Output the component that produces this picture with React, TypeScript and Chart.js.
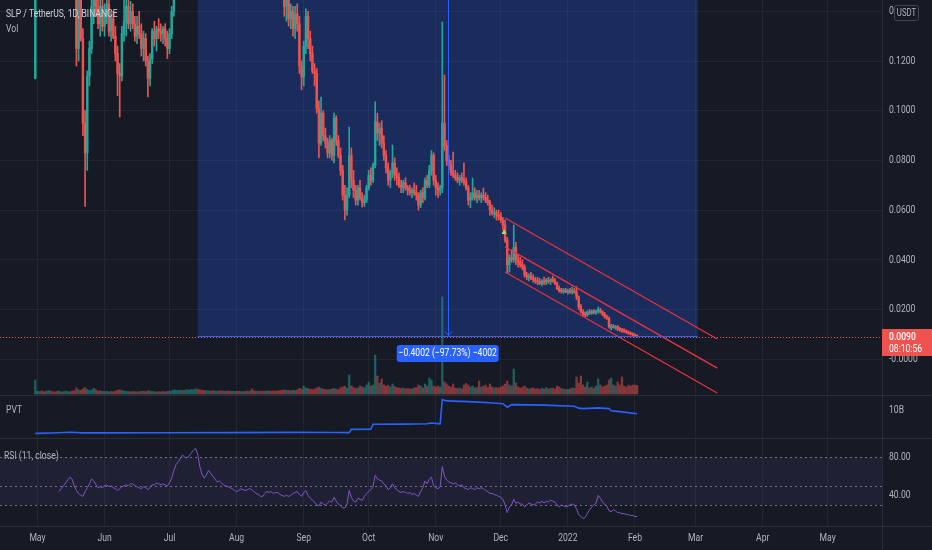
import React, { useEffect, useRef } from "react";
import { Chart, registerables } from "chart.js";

Chart.register(...registerables);

// ---- SLP / TetherUS daily candles, Binance. Day 0 = 30 Apr 2021. ----
// Prices in units of 0.0001 USDT: [open, high, low, close]
const PRICE_UNIT = 0.0001;

const CANDLES_APR_2021 = [[1130, 1900, 1128, 1600]];
const CANDLES_MAY_2021 = [
  [1600, 1750, 1500, 1650], [1650, 1850, 1600, 1800], [1800, 1950, 1700, 1750], [1750, 1800, 1550, 1600],
  [1600, 1750, 1580, 1700], [1700, 1900, 1650, 1850], [1850, 2000, 1750, 1800], [1800, 1900, 1700, 1750],
  [1750, 1850, 1650, 1700], [1700, 1800, 1550, 1600], [1600, 1750, 1550, 1680], [1680, 1700, 1500, 1550],
  [1550, 1650, 1480, 1620], [1620, 1750, 1600, 1720], [1720, 1850, 1700, 1800], [1800, 1900, 1700, 1750],
  [1750, 1800, 1600, 1650], [1650, 1720, 1550, 1600], [1600, 1650, 1180, 1250], [1250, 1550, 1200, 1450],
  [1450, 1520, 1280, 1290], [1290, 1330, 900, 950], [950, 1000, 615, 830], [830, 1160, 760, 1140],
  [1140, 1280, 1100, 1250], [1250, 1450, 1230, 1420], [1420, 1520, 1350, 1480], [1480, 1550, 1380, 1400],
  [1400, 1480, 1330, 1350], [1350, 1450, 1300, 1420], [1420, 1460, 1320, 1340],
];
const CANDLES_JUN_2021 = [
  [1340, 1430, 1300, 1390], [1390, 1470, 1350, 1430], [1430, 1450, 1300, 1320], [1320, 1400, 1280, 1370],
  [1370, 1400, 1290, 1300], [1300, 1340, 1200, 1230], [1230, 1260, 1060, 1150], [1150, 1190, 975, 1140],
  [1140, 1340, 1120, 1310], [1310, 1460, 1280, 1360], [1360, 1470, 1300, 1420], [1420, 1450, 1330, 1350],
  [1350, 1440, 1320, 1400], [1400, 1430, 1330, 1350], [1350, 1380, 1280, 1300], [1300, 1380, 1270, 1340],
  [1340, 1400, 1290, 1310], [1310, 1350, 1220, 1250], [1250, 1320, 1200, 1290], [1290, 1310, 1180, 1200],
  [1200, 1220, 1055, 1130], [1130, 1230, 1100, 1210], [1210, 1330, 1190, 1320], [1320, 1360, 1260, 1290],
  [1290, 1340, 1240, 1330], [1330, 1370, 1290, 1320], [1320, 1350, 1280, 1310], [1310, 1340, 1270, 1330],
  [1330, 1350, 1260, 1290], [1290, 1320, 1210, 1250],
];
const CANDLES_JUL_2021 = [
  [1250, 1330, 1230, 1310], [1310, 1420, 1290, 1400], [1400, 1700, 1380, 1650], [1650, 1950, 1600, 1900],
  [1900, 2300, 1850, 2250], [2250, 2600, 2150, 2500], [2500, 2700, 2300, 2450], [2450, 2900, 2400, 2850],
  [2850, 3200, 2750, 3100], [3100, 3500, 3000, 3400], [3400, 3700, 3250, 3600], [3600, 3950, 3500, 3850],
  [3850, 4000, 3700, 3900], [3900, 4095, 3400, 3500], [3500, 3600, 3100, 3200], [3200, 3300, 2900, 3000],
  [3000, 3100, 2700, 2800], [2800, 3100, 2750, 3050], [3050, 3300, 2950, 3200], [3200, 3350, 3000, 3100],
  [3100, 3200, 2900, 2950], [2950, 3150, 2850, 3050], [3050, 3300, 3000, 3250], [3250, 3400, 3100, 3150],
  [3150, 3250, 2950, 3000], [3000, 3150, 2900, 3100], [3100, 3200, 2900, 2950], [2950, 3050, 2800, 2850],
  [2850, 3000, 2750, 2900], [2900, 2950, 2700, 2750], [2750, 2850, 2650, 2800],
];
const CANDLES_AUG_2021 = [
  [2800, 2900, 2600, 2650], [2650, 2750, 2500, 2550], [2550, 2700, 2450, 2600], [2600, 2750, 2500, 2700],
  [2700, 2800, 2550, 2600], [2600, 2650, 2400, 2450], [2450, 2600, 2400, 2550], [2550, 2650, 2350, 2400],
  [2400, 2500, 2250, 2300], [2300, 2450, 2250, 2400], [2400, 2450, 2200, 2250], [2250, 2350, 2100, 2150],
  [2150, 2250, 2000, 2050], [2050, 2200, 2000, 2100], [2100, 2150, 1900, 1950], [1950, 2050, 1850, 2000],
  [2000, 2050, 1800, 1850], [1850, 1950, 1750, 1800], [1800, 1900, 1700, 1750], [1750, 1800, 1600, 1650],
  [1650, 1750, 1550, 1600], [1600, 1650, 1480, 1500], [1500, 1560, 1380, 1420], [1420, 1490, 1360, 1450],
  [1450, 1470, 1340, 1370], [1370, 1430, 1330, 1400], [1400, 1420, 1300, 1330], [1330, 1420, 1290, 1390],
  [1390, 1430, 1320, 1350], [1350, 1380, 1150, 1180], [1180, 1200, 1084, 1136],
];
const CANDLES_SEP_2021 = [
  [1136, 1280, 1100, 1260], [1260, 1410, 1230, 1380], [1380, 1400, 1250, 1290], [1290, 1320, 1200, 1230],
  [1230, 1260, 1150, 1160], [1160, 1190, 1100, 1150], [1150, 1170, 990, 1010], [1010, 1040, 810, 870],
  [870, 1055, 860, 990], [990, 1000, 880, 900], [900, 930, 850, 870], [870, 890, 810, 830],
  [830, 900, 810, 880], [880, 890, 800, 820], [820, 990, 790, 970], [970, 980, 860, 880],
  [880, 900, 810, 820], [820, 850, 740, 760], [760, 780, 640, 660], [660, 700, 560, 600],
  [600, 690, 580, 660], [660, 934, 650, 820], [820, 850, 690, 720], [720, 760, 650, 680],
  [680, 700, 620, 640], [640, 700, 620, 690], [690, 720, 640, 650], [650, 670, 612, 630],
  [630, 660, 615, 640], [640, 700, 630, 690],
];
const CANDLES_OCT_2021 = [
  [690, 760, 680, 740], [740, 770, 700, 720], [720, 790, 710, 780], [780, 1036, 770, 955],
  [955, 990, 880, 910], [910, 950, 860, 930], [930, 960, 850, 870], [870, 900, 800, 820],
  [820, 840, 750, 770], [770, 790, 700, 720], [720, 760, 690, 750], [750, 862, 730, 790],
  [790, 810, 720, 740], [740, 770, 700, 730], [730, 750, 690, 700], [700, 720, 670, 690],
  [690, 720, 670, 710], [710, 730, 680, 690], [690, 700, 660, 680], [680, 700, 660, 670],
  [670, 690, 650, 680], [680, 710, 660, 670], [670, 700, 640, 660], [660, 670, 600, 620],
  [620, 680, 610, 670], [670, 690, 630, 650], [650, 730, 640, 720], [720, 740, 690, 700],
  [700, 780, 690, 760], [760, 840, 740, 820], [820, 830, 700, 720],
];
const CANDLES_NOV_2021 = [
  [720, 740, 660, 690], [690, 710, 650, 680], [680, 700, 660, 690], [690, 1357, 670, 950],
  [950, 1144, 840, 860], [860, 880, 780, 800], [800, 820, 760, 780], [780, 800, 740, 750],
  [750, 833, 730, 740], [740, 760, 720, 730], [730, 750, 710, 720], [720, 740, 700, 730],
  [730, 750, 710, 720], [720, 790, 700, 715], [715, 730, 680, 690], [690, 700, 620, 640],
  [640, 670, 610, 650], [650, 729, 640, 670], [670, 690, 640, 650], [650, 680, 630, 660],
  [660, 680, 640, 650], [650, 670, 630, 660], [660, 689, 640, 650], [650, 670, 630, 640],
  [640, 660, 620, 630], [630, 640, 580, 600], [600, 620, 580, 590], [590, 610, 570, 590],
  [590, 600, 560, 580], [580, 600, 560, 575],
];
const CANDLES_DEC_2021 = [
  [575, 590, 550, 560], [560, 570, 520, 540], [540, 560, 470, 480], [480, 490, 347, 380],
  [380, 420, 350, 410], [410, 440, 390, 400], [400, 540, 390, 450], [450, 470, 380, 400],
  [400, 420, 370, 390], [390, 410, 370, 380], [380, 400, 360, 370], [370, 380, 330, 340],
  [340, 350, 320, 330], [330, 345, 315, 335], [335, 350, 320, 325], [325, 340, 310, 320],
  [320, 330, 305, 315], [315, 330, 300, 310], [310, 325, 300, 305], [305, 320, 295, 315],
  [315, 330, 300, 310], [310, 325, 300, 318], [318, 330, 305, 312], [312, 325, 300, 320],
  [320, 335, 310, 315], [315, 325, 300, 305], [305, 310, 280, 285], [285, 295, 270, 275],
  [275, 285, 265, 272], [272, 285, 265, 278], [278, 285, 268, 270],
];
const CANDLES_JAN_2022 = [
  [270, 282, 262, 275], [275, 285, 265, 270], [270, 290, 262, 275], [275, 285, 265, 270],
  [270, 292, 240, 250], [250, 255, 200, 210], [210, 220, 185, 190], [190, 200, 172, 180],
  [180, 190, 170, 178], [178, 195, 172, 190], [190, 200, 180, 185], [185, 198, 180, 192],
  [192, 200, 182, 188], [188, 198, 180, 195], [195, 210, 185, 198], [198, 205, 185, 190],
  [190, 195, 175, 180], [180, 188, 165, 170], [170, 178, 160, 165], [165, 170, 125, 130],
  [130, 140, 118, 132], [132, 140, 125, 128], [128, 136, 120, 130], [130, 135, 115, 120],
  [120, 128, 112, 118], [118, 124, 108, 115], [115, 122, 108, 112], [112, 118, 104, 108],
  [108, 114, 100, 105], [105, 110, 97, 100], [100, 106, 94, 98],
];
const CANDLES_FEB_2022 = [[98, 102, 90, 95], [95, 98, 88, 90]];

// Daily volume, millions of SLP
const VOLUME_APR_2021 = [1400];
const VOLUME_MAY_2021 = [300, 250, 320, 220, 260, 350, 300, 240, 210, 260, 310, 200, 240, 300, 260, 210, 300, 320, 620, 420, 360, 520, 640, 460, 360, 400, 560, 420, 300, 310, 260];
const VOLUME_JUN_2021 = [240, 280, 220, 260, 230, 300, 380, 420, 350, 300, 260, 240, 220, 250, 230, 210, 240, 260, 280, 230, 330, 300, 260, 220, 200, 230, 210, 240, 220, 260];
const VOLUME_JUL_2021 = [280, 320, 420, 380, 360, 400, 350, 380, 420, 400, 450, 420, 520, 480, 420, 380, 360, 340, 320, 300, 330, 300, 280, 300, 320, 290, 270, 300, 280, 260, 270];
const VOLUME_AUG_2021 = [260, 280, 250, 240, 270, 300, 260, 500, 320, 280, 260, 300, 280, 270, 320, 300, 280, 310, 290, 320, 350, 380, 420, 380, 360, 340, 380, 350, 420, 560, 480];
const VOLUME_SEP_2021 = [800, 600, 550, 480, 450, 500, 620, 700, 560, 480, 450, 420, 460, 500, 560, 480, 450, 620, 700, 760, 600, 1900, 820, 650, 560, 600, 820, 700, 620, 900];
const VOLUME_OCT_2021 = [1200, 800, 900, 3900, 1800, 1100, 1500, 900, 800, 850, 700, 1000, 750, 650, 600, 550, 600, 500, 550, 500, 520, 600, 650, 900, 800, 600, 1000, 800, 1600, 1400, 800];
const VOLUME_NOV_2021 = [700, 800, 700, 9700, 1200, 1000, 800, 700, 1000, 600, 550, 600, 500, 900, 1050, 900, 700, 800, 600, 650, 1300, 700, 800, 900, 650, 1000, 700, 600, 650, 600];
const VOLUME_DEC_2021 = [700, 800, 1000, 1300, 900, 800, 2500, 1100, 700, 600, 650, 800, 600, 500, 550, 600, 500, 550, 450, 600, 500, 650, 500, 550, 600, 500, 800, 700, 550, 500, 450];
const VOLUME_JAN_2022 = [450, 500, 600, 550, 1700, 1100, 1800, 900, 700, 1200, 600, 700, 550, 800, 1500, 900, 700, 800, 900, 1400, 1600, 900, 800, 1200, 900, 1700, 800, 700, 900, 800, 900];
const VOLUME_FEB_2022 = [900, 850];

// RSI(11, close), first value on day 11 (11 May 2021)
const RSI_START_DAY = 11;
const RSI_MAY_2021 = [44, 47, 50, 53, 56, 59, 57, 50, 45, 42, 40, 39, 44, 48, 52, 57, 55, 51, 48, 49, 48];
const RSI_JUN_2021 = [50, 51, 49, 50, 48, 47, 45, 47, 49, 50, 51, 50, 52, 52, 50, 49, 48, 47, 49, 48, 46, 48, 51, 51, 53, 52, 51, 52, 51, 50];
const RSI_JUL_2021 = [53, 58, 66, 72, 75, 78, 82, 80, 79, 81, 84, 87, 89, 83, 70, 62, 58, 61, 66, 63, 60, 57, 54, 55, 53, 51, 50, 49, 48, 47, 45];
const RSI_AUG_2021 = [44, 45, 47, 46, 45, 46, 47, 46, 44, 42, 41, 39, 39, 42, 44, 43, 44, 42, 43, 43, 41, 40, 39, 40, 39, 40, 42, 43, 44, 41, 39];
const RSI_SEP_2021 = [43, 45, 40, 37, 35, 33, 30, 29, 33, 31, 30, 32, 34, 33, 38, 34, 31, 29, 27, 27, 31, 45, 38, 34, 33, 37, 36, 35, 39, 42];
const RSI_OCT_2021 = [44, 46, 49, 61, 57, 56, 55, 52, 50, 46, 48, 52, 48, 46, 44, 43, 44, 43, 42, 43, 41, 42, 40, 39, 44, 48, 55, 52, 57, 59, 50];
const RSI_NOV_2021 = [48, 47, 49, 70, 60, 56, 54, 53, 52, 53, 51, 50, 51, 48, 47, 46, 48, 47, 46, 48, 47, 48, 47, 45, 44, 42, 42, 41, 40, 39];
const RSI_DEC_2021 = [38, 36, 30, 22, 28, 30, 36, 32, 33, 31, 31, 28, 30, 32, 31, 30, 31, 33, 32, 34, 32, 34, 33, 35, 34, 33, 30, 28, 30, 29, 28];
const RSI_JAN_2022 = [29, 30, 31, 30, 26, 20, 18, 16, 17, 21, 25, 28, 30, 32, 40, 37, 33, 31, 29, 24, 23, 25, 24, 22, 22, 21, 21, 20, 20, 19, 19];
const RSI_FEB_2022 = [18, 18];

// Price Volume Trend, billions, at the days where its slope changes
const PVT_DAYS = [0, 8, 16, 22, 30, 60, 90, 120, 140, 145, 146, 155, 156, 170, 181, 183, 187, 188, 190, 200, 210, 216, 218, 220, 235, 249, 251, 253, 260, 265, 266, 270, 278];
const PVT_BILLIONS = [0, 0.15, 0.45, 0.2, 0.2, 0.25, 0.3, 0.4, 0.35, 0.3, 1.7, 1.75, 3.9, 3.95, 4.1, 4.4, 4.1, 14.5, 13.9, 13.6, 13.1, 12.7, 11.2, 12.3, 12.1, 11.6, 10.8, 10.6, 10.9, 10.6, 9.7, 9.3, 8.4];

// Axes
const MONTH_DAYS = [1, 32, 62, 93, 124, 154, 185, 215, 246, 277, 305, 336, 366];
const MONTH_LABELS = ["May", "Jun", "Jul", "Aug", "Sep", "Oct", "Nov", "Dec", "2022", "Feb", "Mar", "Apr", "May"];
const PRICE_TICKS = [0, 0.02, 0.04, 0.06, 0.08, 0.1, 0.12, 0.14];
const PRICE_TICK_LABELS = ["-0.0000", "0.0200", "0.0400", "0.0600", "0.0800", "0.1000", "0.1200", "0.1400"];
const PVT_TICKS = [10];
const PVT_TICK_LABELS = ["10B"];
const RSI_TICKS = [80, 40];
const RSI_TICK_LABELS = ["80.00", "40.00"];
const RSI_LEVELS = [80, 50, 30];

// Last price
const LAST_PRICE = 0.009;
const LAST_PRICE_LABEL = "0.0090";
const BAR_COUNTDOWN = "08:10:56";

// Price range measurement
const RANGE_FROM_DAY = 75;
const RANGE_TO_DAY = 306;
const RANGE_HIGH = 0.4095;
const RANGE_LOW = 0.0093;
const RANGE_LABEL = "\u22120.4002 (\u221297.73%) \u22124002";

// Descending parallel channel
const CHANNEL_DAYS = [217, 315];
const CHANNEL_UPPER = [0.0568, 0.0081];
const CHANNEL_MIDDLE = [0.0452, -0.0036];
const CHANNEL_LOWER = [0.0351, -0.0136];

const MARKER_DAY = 216.5;
const MARKER_PRICE = 0.0512;

// ---- styling ----
const W = 932;
const AXIS_W = 50;
const X_MIN = -16.3;
const X_MAX = 391.1;
const BG = "#161a25";
const GRID = "rgba(42, 46, 57, 0.6)";
const SEP = "#2a2e39";
const TEXT = "#b2b5be";
const TEXT_HI = "#d1d4dc";
const UP = "#26a69a";
const DOWN = "#ef5350";
const UP_VOL = "rgba(38, 166, 154, 0.5)";
const DOWN_VOL = "rgba(239, 83, 80, 0.5)";
const BLUE = "#2962ff";
const CHANNEL_COLOR = "#f0313f";
const FONT = "Roboto, 'DejaVu Sans', sans-serif";
const SQUEEZE = 0.78;

const candleRows = [
  ...CANDLES_APR_2021, ...CANDLES_MAY_2021, ...CANDLES_JUN_2021, ...CANDLES_JUL_2021,
  ...CANDLES_AUG_2021, ...CANDLES_SEP_2021, ...CANDLES_OCT_2021, ...CANDLES_NOV_2021,
  ...CANDLES_DEC_2021, ...CANDLES_JAN_2022, ...CANDLES_FEB_2022,
];
const volumeRows = [
  ...VOLUME_APR_2021, ...VOLUME_MAY_2021, ...VOLUME_JUN_2021, ...VOLUME_JUL_2021,
  ...VOLUME_AUG_2021, ...VOLUME_SEP_2021, ...VOLUME_OCT_2021, ...VOLUME_NOV_2021,
  ...VOLUME_DEC_2021, ...VOLUME_JAN_2022, ...VOLUME_FEB_2022,
];
const rsiRows = [
  ...RSI_MAY_2021, ...RSI_JUN_2021, ...RSI_JUL_2021, ...RSI_AUG_2021, ...RSI_SEP_2021,
  ...RSI_OCT_2021, ...RSI_NOV_2021, ...RSI_DEC_2021, ...RSI_JAN_2022, ...RSI_FEB_2022,
];

const candles = candleRows.map(([o, h, l, c], day) => ({
  day,
  o: o * PRICE_UNIT,
  h: h * PRICE_UNIT,
  l: l * PRICE_UNIT,
  c: c * PRICE_UNIT,
}));
const isUp = (k: { o: number; c: number }) => k.c >= k.o;

function drawLabel(
  ctx: CanvasRenderingContext2D,
  str: string,
  x: number,
  y: number,
  color: string,
  size = 11,
  align: CanvasTextAlign = "left",
  weight = 400
) {
  ctx.save();
  ctx.font = `${weight} ${size}px ${FONT}`;
  ctx.fillStyle = color;
  ctx.textAlign = align;
  ctx.textBaseline = "middle";
  ctx.translate(x, y);
  ctx.scale(SQUEEZE, 1);
  ctx.fillText(str, 0, 0);
  ctx.restore();
}

function roundRect(ctx: CanvasRenderingContext2D, x: number, y: number, w: number, h: number, r: number) {
  ctx.beginPath();
  ctx.moveTo(x + r, y);
  ctx.lineTo(x + w - r, y);
  ctx.quadraticCurveTo(x + w, y, x + w, y + r);
  ctx.lineTo(x + w, y + h - r);
  ctx.quadraticCurveTo(x + w, y + h, x + w - r, y + h);
  ctx.lineTo(x + r, y + h);
  ctx.quadraticCurveTo(x, y + h, x, y + h - r);
  ctx.lineTo(x, y + r);
  ctx.quadraticCurveTo(x, y, x + r, y);
  ctx.closePath();
}

function timeScale(height: number) {
  return {
    type: "linear",
    min: X_MIN,
    max: X_MAX,
    offset: false,
    grid: { color: GRID, drawTicks: false, offset: false },
    border: { display: false },
    ticks: { display: false },
    afterBuildTicks: (s: any) => {
      s.ticks = MONTH_DAYS.map((value) => ({ value }));
    },
    afterFit: (s: any) => {
      s.height = height;
    },
  };
}

function valueScale(min: number, max: number, ticks: number[], showGrid: boolean) {
  return {
    type: "linear",
    position: "right",
    min,
    max,
    grid: { display: showGrid, color: GRID, drawTicks: false },
    border: { display: false },
    ticks: { display: false },
    afterBuildTicks: (s: any) => {
      s.ticks = ticks.map((value) => ({ value }));
    },
    afterFit: (s: any) => {
      s.width = AXIS_W;
    },
  };
}

const baseOptions = {
  animation: false,
  responsive: false,
  events: [],
  layout: { padding: 0 },
  plugins: { legend: { display: false }, tooltip: { enabled: false } },
};

const mainOverlay = {
  id: "mainOverlay",
  beforeDatasetsDraw(chart: any) {
    const { ctx, chartArea: a } = chart;
    const x = chart.scales.x;
    const y = chart.scales.y;
    ctx.save();
    ctx.beginPath();
    ctx.rect(a.left, a.top, a.right - a.left, a.bottom - a.top);
    ctx.clip();
    const x0 = x.getPixelForValue(RANGE_FROM_DAY);
    const x1 = x.getPixelForValue(RANGE_TO_DAY);
    const yTop = y.getPixelForValue(RANGE_HIGH);
    const yBot = y.getPixelForValue(RANGE_LOW);
    ctx.fillStyle = "rgba(41, 98, 255, 0.25)";
    ctx.fillRect(x0, yTop, x1 - x0, yBot - yTop);
    ctx.restore();
  },
  afterDatasetsDraw(chart: any) {
    const { ctx, chartArea: a } = chart;
    const x = chart.scales.x;
    const y = chart.scales.y;
    ctx.save();
    ctx.beginPath();
    ctx.rect(a.left, a.top, a.right - a.left, a.bottom - a.top);
    ctx.clip();

    const x0 = x.getPixelForValue(RANGE_FROM_DAY);
    const x1 = x.getPixelForValue(RANGE_TO_DAY);
    const yTop = y.getPixelForValue(RANGE_HIGH);
    const yBot = y.getPixelForValue(RANGE_LOW);

    // last price line
    const yLast = Math.round(y.getPixelForValue(LAST_PRICE)) + 0.5;
    ctx.strokeStyle = DOWN;
    ctx.lineWidth = 1;
    ctx.setLineDash([1, 2]);
    ctx.beginPath();
    ctx.moveTo(a.left, yLast);
    ctx.lineTo(a.right, yLast);
    ctx.stroke();
    ctx.setLineDash([]);

    // range edge and arrow
    const yb = Math.round(yBot) + 0.5;
    ctx.strokeStyle = BLUE;
    ctx.beginPath();
    ctx.moveTo(x0, yb);
    ctx.lineTo(x1, yb);
    ctx.stroke();
    const xm = Math.round((x0 + x1) / 2) + 0.5;
    ctx.beginPath();
    ctx.moveTo(xm, yTop);
    ctx.lineTo(xm, yb);
    ctx.stroke();
    ctx.beginPath();
    ctx.moveTo(xm - 3.5, yb - 5);
    ctx.lineTo(xm, yb - 1);
    ctx.lineTo(xm + 3.5, yb - 5);
    ctx.stroke();

    // small signal marker
    const mx = x.getPixelForValue(MARKER_DAY);
    const my = y.getPixelForValue(MARKER_PRICE);
    ctx.fillStyle = "#b5d66b";
    ctx.beginPath();
    ctx.moveTo(mx, my - 3);
    ctx.lineTo(mx + 2.5, my + 2);
    ctx.lineTo(mx - 2.5, my + 2);
    ctx.closePath();
    ctx.fill();
    ctx.restore();
  },
  afterDraw(chart: any) {
    const { ctx, chartArea: a } = chart;
    const x = chart.scales.x;
    const y = chart.scales.y;

    drawLabel(ctx, "SLP / TetherUS, 1D, BINANCE", 6, 14, TEXT_HI);
    drawLabel(ctx, "Vol", 6, 29, TEXT);

    PRICE_TICKS.forEach((v, i) => {
      drawLabel(ctx, PRICE_TICK_LABELS[i], a.right + 7, y.getPixelForValue(v), TEXT);
    });

    // currency badge
    ctx.save();
    roundRect(ctx, 894.5, 5.5, 24, 15, 2);
    ctx.fillStyle = BG;
    ctx.fill();
    ctx.strokeStyle = "#434651";
    ctx.lineWidth = 1;
    ctx.stroke();
    ctx.restore();
    drawLabel(ctx, "USDT", 906.5, 13.5, TEXT, 10, "center");

    // last price badge
    const yLast = y.getPixelForValue(LAST_PRICE);
    ctx.save();
    ctx.fillStyle = DOWN;
    ctx.fillRect(a.right, Math.round(yLast) - 8, W - a.right, 27);
    ctx.restore();
    drawLabel(ctx, LAST_PRICE_LABEL, a.right + 7, yLast + 0.5, "#ffffff", 11, "left", 500);
    drawLabel(ctx, BAR_COUNTDOWN, a.right + 7, yLast + 12.5, "#ffffff", 11, "left", 400);

    // range label
    const x0 = x.getPixelForValue(RANGE_FROM_DAY);
    const x1 = x.getPixelForValue(RANGE_TO_DAY);
    const xm = (x0 + x1) / 2;
    const yBot = y.getPixelForValue(RANGE_LOW);
    ctx.save();
    roundRect(ctx, xm - 51, yBot + 9, 102, 17, 3);
    ctx.fillStyle = BLUE;
    ctx.fill();
    ctx.restore();
    drawLabel(ctx, RANGE_LABEL, xm, yBot + 17.5, "#ffffff", 11, "center");
  },
};

const pvtOverlay = {
  id: "pvtOverlay",
  afterDraw(chart: any) {
    const { ctx, chartArea: a } = chart;
    const y = chart.scales.y;
    drawLabel(ctx, "PVT", 6, 14, TEXT);
    PVT_TICKS.forEach((v, i) => drawLabel(ctx, PVT_TICK_LABELS[i], a.right + 7, y.getPixelForValue(v), TEXT));
  },
};

const rsiOverlay = {
  id: "rsiOverlay",
  beforeDatasetsDraw(chart: any) {
    const { ctx, chartArea: a } = chart;
    const y = chart.scales.y;
    const yHi = y.getPixelForValue(RSI_LEVELS[0]);
    const yLo = y.getPixelForValue(RSI_LEVELS[2]);
    ctx.save();
    ctx.fillStyle = "rgba(126, 87, 194, 0.1)";
    ctx.fillRect(a.left, yHi, a.right - a.left, yLo - yHi);
    ctx.strokeStyle = "rgba(120, 123, 134, 0.9)";
    ctx.lineWidth = 1;
    ctx.setLineDash([2, 3]);
    RSI_LEVELS.forEach((lv) => {
      const yy = Math.round(y.getPixelForValue(lv)) + 0.5;
      ctx.beginPath();
      ctx.moveTo(a.left, yy);
      ctx.lineTo(a.right, yy);
      ctx.stroke();
    });
    ctx.restore();
  },
  afterDraw(chart: any) {
    const { ctx, chartArea: a } = chart;
    const x = chart.scales.x;
    const y = chart.scales.y;
    drawLabel(ctx, "RSI (11, close)", 4, 17.5, TEXT);
    RSI_TICKS.forEach((v, i) => drawLabel(ctx, RSI_TICK_LABELS[i], a.right + 7, y.getPixelForValue(v), TEXT));
    MONTH_DAYS.forEach((d, i) => drawLabel(ctx, MONTH_LABELS[i], x.getPixelForValue(d), a.bottom + 12, TEXT, 11, "center"));
  },
};

function channelLine(prices: number[]) {
  return {
    type: "line",
    data: CHANNEL_DAYS.map((d, i) => ({ x: d, y: prices[i] })),
    borderColor: CHANNEL_COLOR,
    borderWidth: 1.2,
    pointRadius: 0,
    yAxisID: "y",
    order: 0,
  };
}

function mainConfig(): any {
  const colors = candles.map((k) => (isUp(k) ? UP : DOWN));
  return {
    type: "bar",
    data: {
      datasets: [
        channelLine(CHANNEL_UPPER),
        channelLine(CHANNEL_MIDDLE),
        channelLine(CHANNEL_LOWER),
        {
          type: "bar",
          data: candles.map((k) => ({ x: k.day, y: [k.o, k.c] })),
          backgroundColor: colors,
          barThickness: 1.8,
          minBarLength: 1,
          grouped: false,
          yAxisID: "y",
          order: 1,
        },
        {
          type: "bar",
          data: candles.map((k) => ({ x: k.day, y: [k.l, k.h] })),
          backgroundColor: colors,
          barThickness: 1,
          grouped: false,
          yAxisID: "y",
          order: 2,
        },
        {
          type: "bar",
          data: volumeRows.map((v, i) => ({ x: i, y: v })),
          backgroundColor: candles.map((k) => (isUp(k) ? UP_VOL : DOWN_VOL)),
          barThickness: 1.6,
          grouped: false,
          yAxisID: "yVol",
          order: 3,
        },
      ],
    },
    options: {
      ...baseOptions,
      scales: {
        x: timeScale(0),
        y: valueScale(-0.01441, 0.14455, PRICE_TICKS, true),
        yVol: { type: "linear", display: false, min: -100, max: 39400 },
      },
    },
    plugins: [mainOverlay],
  };
}

function pvtConfig(): any {
  return {
    type: "line",
    data: {
      datasets: [
        {
          data: PVT_DAYS.map((d, i) => ({ x: d, y: PVT_BILLIONS[i] })),
          borderColor: BLUE,
          borderWidth: 1.6,
          pointRadius: 0,
          tension: 0,
        },
      ],
    },
    options: {
      ...baseOptions,
      scales: {
        x: timeScale(0),
        y: valueScale(-2, 16, PVT_TICKS, false),
      },
    },
    plugins: [pvtOverlay],
  };
}

function rsiConfig(): any {
  return {
    type: "line",
    data: {
      datasets: [
        {
          data: rsiRows.map((v, i) => ({ x: RSI_START_DAY + i, y: v })),
          borderColor: "#7e57c2",
          borderWidth: 1,
          pointRadius: 0,
          tension: 0,
        },
      ],
    },
    options: {
      ...baseOptions,
      scales: {
        x: timeScale(24),
        y: valueScale(8.1, 98.75, RSI_TICKS, false),
      },
    },
    plugins: [rsiOverlay],
  };
}

export default function App() {
  const mainRef = useRef<HTMLCanvasElement>(null);
  const pvtRef = useRef<HTMLCanvasElement>(null);
  const rsiRef = useRef<HTMLCanvasElement>(null);

  useEffect(() => {
    const charts = [
      new Chart(mainRef.current as HTMLCanvasElement, mainConfig()),
      new Chart(pvtRef.current as HTMLCanvasElement, pvtConfig()),
      new Chart(rsiRef.current as HTMLCanvasElement, rsiConfig()),
    ];
    return () => charts.forEach((c) => c.destroy());
  }, []);

  const line = (style: React.CSSProperties) => (
    <div style={{ position: "absolute", background: SEP, ...style }} />
  );

  return (
    <div
      style={{
        position: "fixed",
        left: 0,
        top: 0,
        width: W,
        height: 550,
        background: BG,
        overflow: "hidden",
      }}
    >
      {line({ left: 0, top: 395, width: W, height: 1 })}
      {line({ left: 0, top: 438, width: W, height: 1 })}
      {line({ left: 0, top: 526, width: W, height: 1 })}
      {line({ left: W - AXIS_W, top: 0, width: 1, height: 550 })}
      <canvas ref={mainRef} width={W} height={395} style={{ position: "absolute", left: 0, top: 0 }} />
      <canvas ref={pvtRef} width={W} height={42} style={{ position: "absolute", left: 0, top: 396 }} />
      <canvas ref={rsiRef} width={W} height={111} style={{ position: "absolute", left: 0, top: 439 }} />
    </div>
  );
}
